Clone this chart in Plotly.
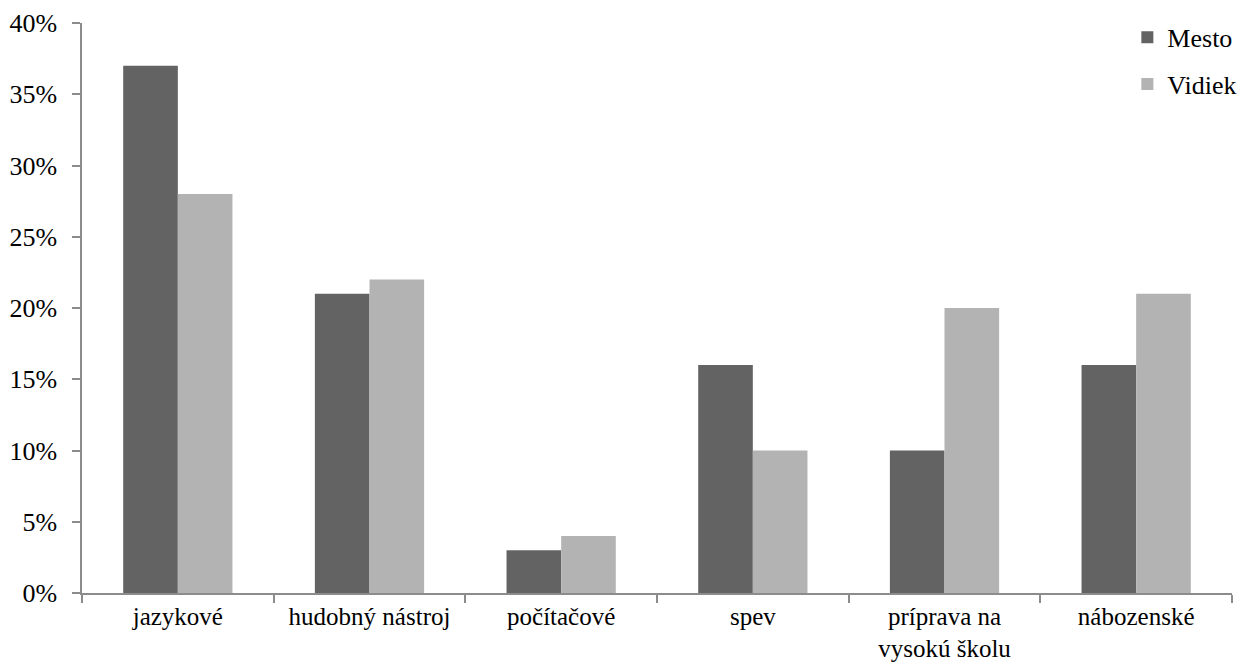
import plotly.graph_objects as go

categories = ["jazykové", "hudobný nástroj", "počítačové", "spev",
              "príprava na<br>vysokú školu", "nábozenské"]
mesto = [37, 21, 3, 16, 10, 16]
vidiek = [28, 22, 4, 10, 20, 21]
y_ticks = [0, 5, 10, 15, 20, 25, 30, 35, 40]
y_tick_labels = [f"{v}%" for v in y_ticks]

font = dict(family="Liberation Serif", size=26, color="black")
xfont = dict(family="Liberation Serif", size=25, color="black")
axis_color = "#8c8c8c"

fig = go.Figure()
fig.add_trace(go.Bar(name="Mesto", x=categories, y=mesto,
                     marker=dict(color="#636363", line=dict(width=0)),
                     legendgroup="a"))
fig.add_trace(go.Bar(name="Vidiek", x=categories, y=vidiek,
                     marker=dict(color="#b3b3b3", line=dict(width=0)),
                     legendgroup="b"))

fig.update_layout(
    width=1242, height=668,
    autosize=False,
    margin=dict(l=82, r=10, t=23, b=75, autoexpand=False),
    paper_bgcolor="white", plot_bgcolor="white",
    font=font,
    barmode="group", bargap=0.43, bargroupgap=0,
    showlegend=True,
    legend=dict(x=0.909, y=1.016, xanchor="left", yanchor="top",
                traceorder="grouped", tracegroupgap=10,
                bgcolor="rgba(0,0,0,0)", font=font,
                itemwidth=30),
    xaxis=dict(showline=True, linecolor=axis_color, linewidth=1.5,
               ticks="outside", tickson="boundaries", ticklen=8,
               tickcolor=axis_color, tickwidth=1.5,
               ticklabelstandoff=0, tickfont=xfont,
               showgrid=False, zeroline=False),
    yaxis=dict(range=[0, 40], tickvals=y_ticks, ticktext=y_tick_labels,
               showline=True, linecolor=axis_color, linewidth=1.5,
               ticks="outside", ticklen=8, tickcolor=axis_color, tickwidth=1.5,
               ticklabelstandoff=10, tickfont=font,
               showgrid=False, zeroline=False),
)

fig.write_html("out.html")
